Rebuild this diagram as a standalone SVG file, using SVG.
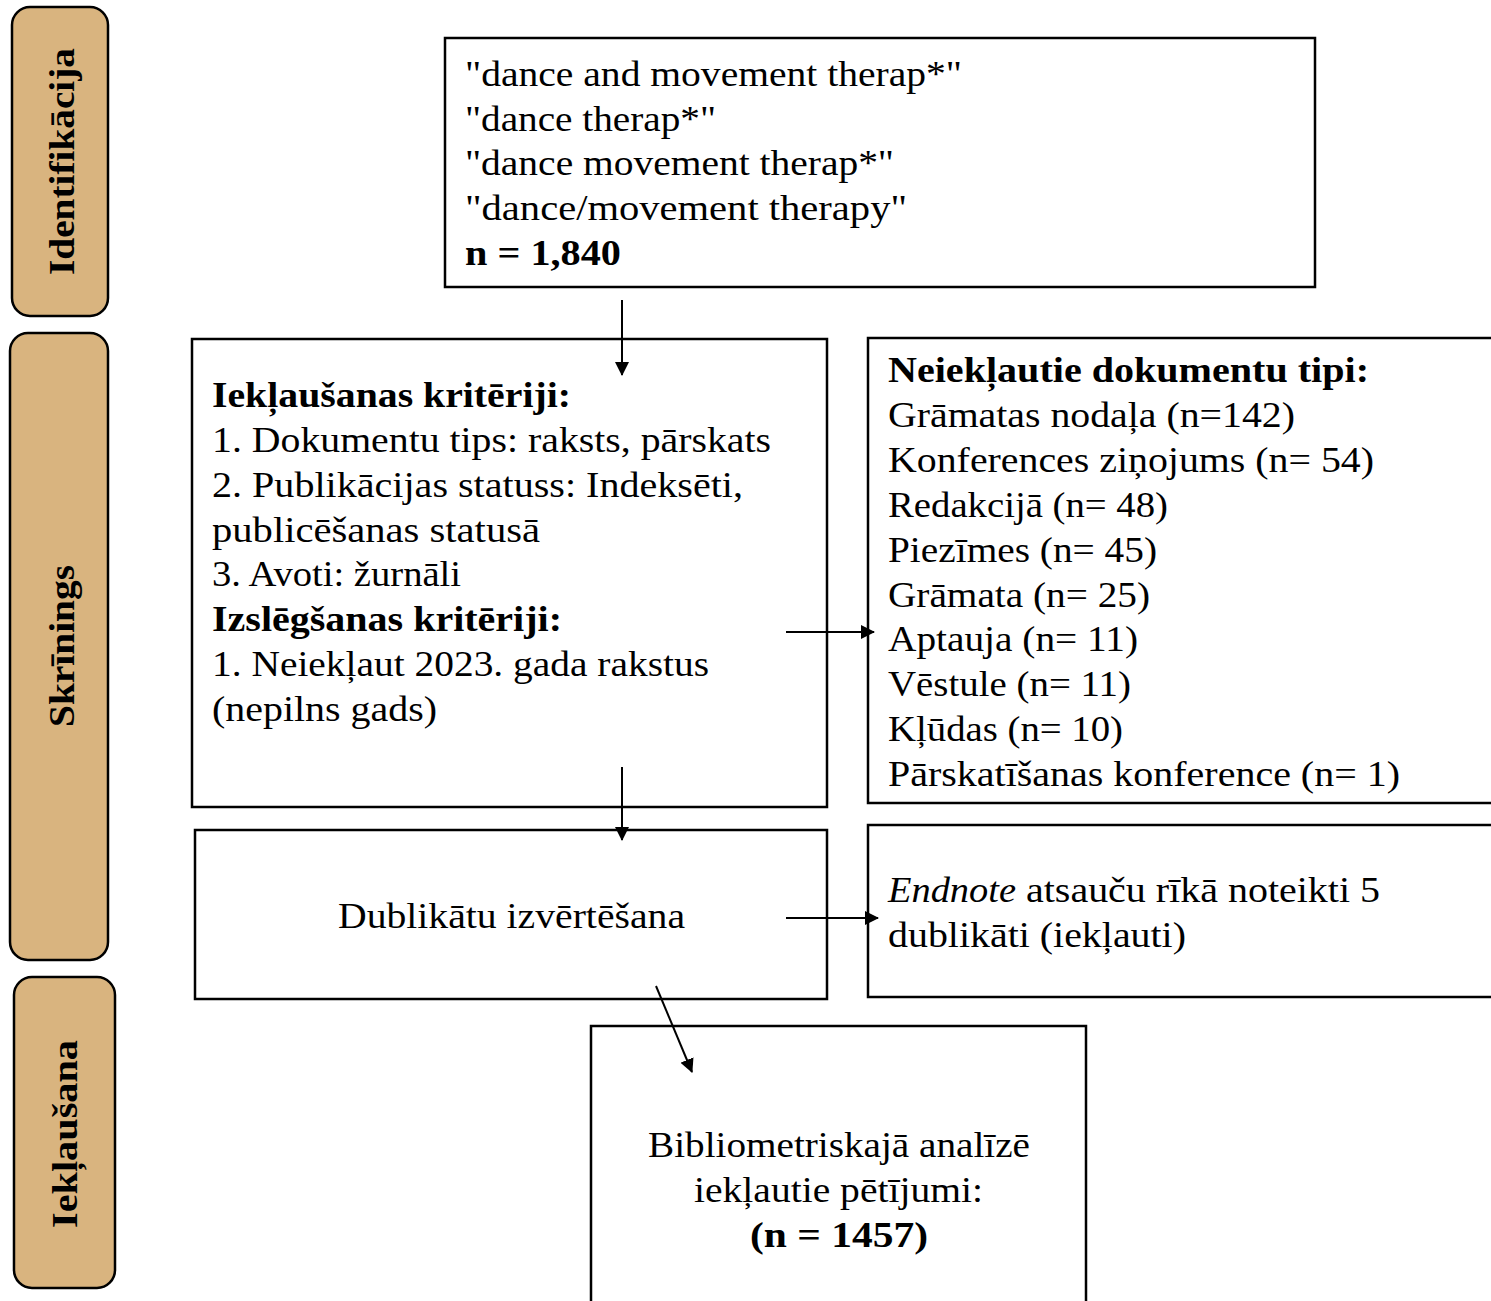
<svg xmlns="http://www.w3.org/2000/svg" width="1491" height="1301" viewBox="0 0 1491 1301">
<defs>
<style>
.tab{fill:#D9B47F;stroke:#000;stroke-width:2.5}
.box{fill:#fff;stroke:#000;stroke-width:2.5}
text{font-family:"Liberation Serif","DejaVu Serif",serif;font-size:36px;fill:#000}
.b{font-weight:bold}
.tt{font-weight:bold;font-size:36px}
.c{stroke:#000;stroke-width:2;fill:none}
</style>
<marker id="ah" markerWidth="16" markerHeight="16" refX="13" refY="8" orient="auto" markerUnits="userSpaceOnUse">
<path d="M0,1 L14,8 L0,15 Z" fill="#000"/>
</marker>
</defs>
<rect width="1491" height="1301" fill="#fff"/>

<g id="tab-identifikacija">
<rect class="tab" x="12" y="7" width="96" height="309" rx="18"/>
<text class="tt" transform="translate(74,275) rotate(-90)" textLength="227" lengthAdjust="spacingAndGlyphs">Identifikācija</text>
</g>
<g id="tab-skrinings">
<rect class="tab" x="10" y="333" width="98" height="627" rx="18"/>
<text class="tt" transform="translate(74,727) rotate(-90)" textLength="162" lengthAdjust="spacingAndGlyphs">Skrīnings</text>
</g>
<g id="tab-ieklausana">
<rect class="tab" x="14" y="977" width="101" height="311" rx="18"/>
<text class="tt" transform="translate(77,1228) rotate(-90)" textLength="188" lengthAdjust="spacingAndGlyphs">Iekļaušana</text>
</g>

<g id="node-search">
<rect class="box" x="445" y="38" width="870" height="249"/>
<text x="465" y="86" textLength="497" lengthAdjust="spacingAndGlyphs">"dance and movement therap*"</text>
<text x="465" y="131" textLength="251" lengthAdjust="spacingAndGlyphs">"dance therap*"</text>
<text x="465" y="175" textLength="429" lengthAdjust="spacingAndGlyphs">"dance movement therap*"</text>
<text x="465" y="220" textLength="442" lengthAdjust="spacingAndGlyphs">"dance/movement therapy"</text>
<text class="b" x="465" y="265" textLength="156" lengthAdjust="spacingAndGlyphs">n = 1,840</text>
</g>

<g id="node-criteria">
<rect class="box" x="192" y="339" width="635" height="468"/>
<text class="b" x="212" y="407" textLength="359" lengthAdjust="spacingAndGlyphs">Iekļaušanas kritēriji:</text>
<text x="212" y="452" textLength="559" lengthAdjust="spacingAndGlyphs">1. Dokumentu tips: raksts, pārskats</text>
<text x="212" y="497" textLength="531" lengthAdjust="spacingAndGlyphs">2. Publikācijas statuss:  Indeksēti,</text>
<text x="212" y="542" textLength="328" lengthAdjust="spacingAndGlyphs">publicēšanas statusā</text>
<text x="212" y="586" textLength="249" lengthAdjust="spacingAndGlyphs">3. Avoti: žurnāli</text>
<text class="b" x="212" y="631" textLength="350" lengthAdjust="spacingAndGlyphs">Izslēgšanas kritēriji:</text>
<text x="212" y="676" textLength="497" lengthAdjust="spacingAndGlyphs">1. Neiekļaut 2023. gada rakstus</text>
<text x="212" y="721" textLength="225" lengthAdjust="spacingAndGlyphs">(nepilns gads)</text>
</g>

<g id="node-excluded">
<rect class="box" x="868" y="338" width="640" height="465"/>
<text class="b" x="888" y="382" textLength="481" lengthAdjust="spacingAndGlyphs">Neiekļautie dokumentu tipi:</text>
<text x="888" y="427" textLength="407" lengthAdjust="spacingAndGlyphs">Grāmatas nodaļa (n=142)</text>
<text x="888" y="472" textLength="486" lengthAdjust="spacingAndGlyphs">Konferences ziņojums  (n= 54)</text>
<text x="888" y="517" textLength="280" lengthAdjust="spacingAndGlyphs">Redakcijā (n= 48)</text>
<text x="888" y="562" textLength="269" lengthAdjust="spacingAndGlyphs">Piezīmes (n= 45)</text>
<text x="888" y="607" textLength="262" lengthAdjust="spacingAndGlyphs">Grāmata (n= 25)</text>
<text x="888" y="651" textLength="250" lengthAdjust="spacingAndGlyphs">Aptauja (n= 11)</text>
<text x="888" y="696" textLength="243" lengthAdjust="spacingAndGlyphs">Vēstule (n= 11)</text>
<text x="888" y="741" textLength="235" lengthAdjust="spacingAndGlyphs">Kļūdas (n= 10)</text>
<text x="888" y="786" textLength="512" lengthAdjust="spacingAndGlyphs">Pārskatīšanas konference (n= 1)</text>
</g>

<g id="node-duplicates">
<rect class="box" x="195" y="830" width="632" height="169"/>
<text x="338" y="928" textLength="347" lengthAdjust="spacingAndGlyphs">Dublikātu izvērtēšana</text>
</g>

<g id="node-endnote">
<rect class="box" x="868" y="825" width="640" height="172"/>
<text x="888" y="902" font-style="italic" textLength="128" lengthAdjust="spacingAndGlyphs">Endnote</text>
<text x="1026" y="902" textLength="354" lengthAdjust="spacingAndGlyphs">atsauču rīkā noteikti 5</text>
<text x="888" y="947" textLength="298" lengthAdjust="spacingAndGlyphs">dublikāti (iekļauti)</text>
</g>

<g id="node-included">
<rect class="box" x="591" y="1026" width="495" height="290"/>
<text x="648" y="1157" textLength="382" lengthAdjust="spacingAndGlyphs">Bibliometriskajā analīzē</text>
<text x="694" y="1202" textLength="289" lengthAdjust="spacingAndGlyphs">iekļautie pētījumi:</text>
<text class="b" x="750" y="1247" textLength="178" lengthAdjust="spacingAndGlyphs">(n = 1457)</text>
</g>

<g id="connectors">
<line class="c" x1="622" y1="300" x2="622" y2="375" marker-end="url(#ah)"/>
<line class="c" x1="786" y1="632" x2="874" y2="632" marker-end="url(#ah)"/>
<line class="c" x1="622" y1="767" x2="622" y2="840" marker-end="url(#ah)"/>
<line class="c" x1="786" y1="918" x2="878" y2="918" marker-end="url(#ah)"/>
<line class="c" x1="656" y1="986" x2="692" y2="1072" marker-end="url(#ah)"/>
</g>
</svg>
